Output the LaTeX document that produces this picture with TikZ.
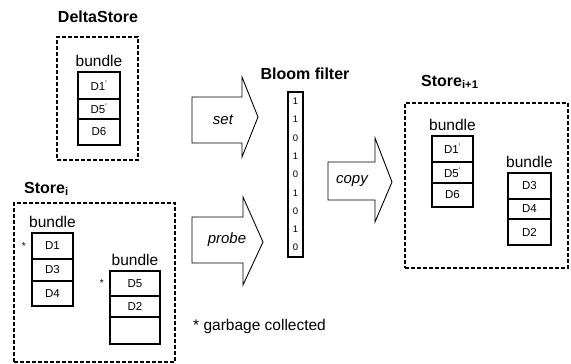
\documentclass[tikz,border=0pt]{standalone}
\usepackage{fontspec}
\setmainfont{Liberation Sans}
\usepackage{tikz}
\usetikzlibrary{positioning}
\tikzstyle{storebox} = [rectangle, draw, dash pattern=on 4pt off 2pt, line width=1.7pt]
\tikzstyle{cell} = [rectangle, draw, line width=1.3pt, inner sep=0pt, outer sep=0pt, font=\fontsize{11.5}{13}\selectfont]
\tikzstyle{storetitle} = [font=\fontsize{16}{19}\selectfont\bfseries, inner sep=0pt]
\tikzstyle{bundle} = [font=\fontsize{15.5}{18}\selectfont, inner sep=1pt]
\tikzstyle{gcmark} = [font=\fontsize{10}{12}\selectfont, inner sep=0pt]
\tikzstyle{fat} = [draw, line width=0.9pt, line join=miter]
\tikzstyle{opname} = [font=\fontsize{15}{18}\selectfont\itshape]

\begin{document}
\begin{tikzpicture}[x=1pt, y=-1pt]
\useasboundingbox (0,0) rectangle (571,364);

\node (deltatitle) [storetitle, anchor=base] at (98,23) {DeltaStore};
\node (deltabox)   [storebox, minimum width=81pt, minimum height=123pt] at (97.5,98.5) {};
\node (da)         [cell, anchor=north, minimum width=42pt, minimum height=27pt] at (99,72) {D1\textsuperscript{'}};
\node (db)         [cell, below=0pt of da, minimum width=42pt, minimum height=20pt] {D5\textsuperscript{'}};
\node (dc)         [cell, below=0pt of db, minimum width=42pt, minimum height=26pt] {D6};
\node (dbundle)    [bundle, above=4pt of da] {bundle};

\node (oldtitle)   [storetitle, anchor=base west] at (24,193) {Store\textsubscript{i}};
\node (oldbox)     [storebox, minimum width=161pt, minimum height=159pt] at (94.5,282.5) {};
\node (oa)         [cell, anchor=north, minimum width=41pt, minimum height=26pt] at (52.5,233) {D1};
\node (ob)         [cell, below=0pt of oa, minimum width=41pt, minimum height=22pt] {D3};
\node (oc)         [cell, below=0pt of ob, minimum width=41pt, minimum height=25pt] {D4};
\node (obundle)    [bundle, above=4pt of oa] {bundle};
\node (ostar)      [gcmark, left=6pt of oa] {*};
\node (od)         [cell, anchor=north, minimum width=50pt, minimum height=25pt] at (135,271) {D5};
\node (oe)         [cell, below=0pt of od, minimum width=50pt, minimum height=21pt] {D2};
\node (of)         [cell, below=0pt of oe, minimum width=50pt, minimum height=27pt] {};
\node (obundle2)   [bundle, above=4pt of od] {bundle};
\node (ostar2)     [gcmark, left=6pt of od] {*};

\node (bloomtitle) [storetitle, anchor=base] at (305,79) {Bloom filter};
\node (bloom)      [rectangle, draw, line width=1.2pt, minimum width=15pt, minimum height=165pt, inner sep=0pt, align=center, font=\fontsize{9.5}{18.3}\selectfont] at (295.5,174.5) {1\\1\\0\\1\\0\\1\\0\\1\\0};

\node (newtitle)   [storetitle, anchor=base west] at (421,86) {Store\textsubscript{i+1}};
\node (newbox)     [storebox, minimum width=163pt, minimum height=165pt] at (486.5,185.5) {};
\node (na)         [cell, anchor=north, minimum width=41pt, minimum height=26pt] at (452.5,136) {D1\textsuperscript{'}};
\node (nb)         [cell, below=0pt of na, minimum width=41pt, minimum height=21pt] {D5\textsuperscript{'}};
\node (nc)         [cell, below=0pt of nb, minimum width=41pt, minimum height=24pt] {D6};
\node (nbundle)    [bundle, above=4pt of na] {bundle};
\node (nd)         [cell, anchor=north, minimum width=43pt, minimum height=26pt] at (529.5,173) {D3};
\node (ne)         [cell, below=0pt of nd, minimum width=43pt, minimum height=20pt] {D4};
\node (nf)         [cell, below=0pt of ne, minimum width=43pt, minimum height=26pt] {D2};
\node (nbundle2)   [bundle, above=4pt of nd] {bundle};

\draw [fat] (192,97) -- (242,97) -- (242,77) -- (258,117) -- (242,157) -- (242,143) -- (192,143) -- cycle;
\node (set)        [opname] at (223,120) {set};
\draw [fat] (192,217) -- (243,217) -- (243,197) -- (263,242) -- (243,285) -- (243,263) -- (192,263) -- cycle;
\node (probe)      [opname] at (227,240) {probe};
\draw [fat] (328,162) -- (375,162) -- (375,138) -- (392,182) -- (375,222) -- (375,200) -- (328,200) -- cycle;
\node (copy)       [opname] at (352,181) {copy};

\node (gcnote)     [bundle, anchor=base west] at (192,330) {* garbage collected};

\end{tikzpicture}
\end{document}
